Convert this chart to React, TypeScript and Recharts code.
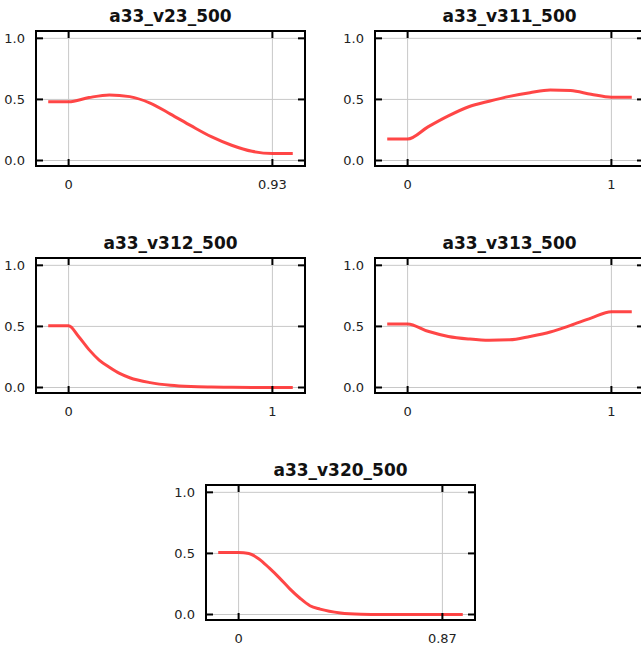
import { CartesianGrid, Line, LineChart, ReferenceArea, XAxis, YAxis } from 'recharts';

// x positions and read-off values for each panel
const v23X = [-0.093, 0, 0.093, 0.186, 0.279, 0.372, 0.465, 0.558, 0.651, 0.744, 0.837, 0.93, 1.023];
const v23Y = [0.48, 0.48, 0.515, 0.537, 0.523, 0.47, 0.38, 0.285, 0.195, 0.125, 0.075, 0.057, 0.057];

const v311X = [-0.1, 0, 0.1, 0.2, 0.3, 0.4, 0.5, 0.6, 0.7, 0.8, 0.9, 1.0, 1.1];
const v311Y = [0.176, 0.176, 0.275, 0.365, 0.44, 0.485, 0.525, 0.555, 0.577, 0.572, 0.542, 0.518, 0.518];

const v312X = [-0.1, 0, 0.05, 0.1, 0.15, 0.2, 0.25, 0.3, 0.4, 0.5, 0.6, 0.7, 0.8, 0.9, 1.0, 1.1];
const v312Y = [0.505, 0.505, 0.415, 0.31, 0.225, 0.166, 0.115, 0.08, 0.04, 0.018, 0.008, 0.004, 0.002, 0.001, 0.001, 0.001];

const v313X = [-0.1, 0, 0.1, 0.2, 0.3, 0.4, 0.5, 0.6, 0.7, 0.8, 0.9, 1.0, 1.1];
const v313Y = [0.52, 0.52, 0.46, 0.418, 0.397, 0.386, 0.39, 0.418, 0.454, 0.508, 0.568, 0.62, 0.62];

const v320X = [-0.087, 0, 0.0435, 0.087, 0.1305, 0.174, 0.2175, 0.261, 0.3045, 0.348, 0.435, 0.522, 0.609, 0.696, 0.783, 0.87, 0.957];
const v320Y = [0.508, 0.508, 0.5, 0.455, 0.381, 0.3, 0.212, 0.135, 0.072, 0.044, 0.013, 0.003, 0.001, 0.001, 0.001, 0.001, 0.001];

const titles = ['a33_v23_500', 'a33_v311_500', 'a33_v312_500', 'a33_v313_500', 'a33_v320_500'];
const xMax = [0.93, 1, 1, 1, 0.87];
const yTicks = [0, 0.5, 1];

const FONT = '"DejaVu Sans", sans-serif';

function zip(xs: number[], ys: number[]) {
  return xs.map((x, i) => ({ x, y: ys[i] }));
}

const panels = [
  { title: titles[0], max: xMax[0], data: zip(v23X, v23Y), left: 0, top: 0 },
  { title: titles[1], max: xMax[1], data: zip(v311X, v311Y), left: 339, top: 0 },
  { title: titles[2], max: xMax[2], data: zip(v312X, v312Y), left: 0, top: 227 },
  { title: titles[3], max: xMax[3], data: zip(v313X, v313Y), left: 339, top: 227 },
  { title: titles[4], max: xMax[4], data: zip(v320X, v320Y), left: 170, top: 454 },
];

const labelStyle = { fontSize: 13, fill: '#222', fontFamily: FONT };
const inTick = { stroke: '#000', strokeWidth: 2 };
const noLabel = () => '';

function Panel({ title, max, data, left, top }: (typeof panels)[number]) {
  const xDomain = [-0.16 * max, 1.16 * max];
  const xTicks = [0, max];
  const yDomain = [-0.045, 1.06];
  return (
    <div style={{ position: 'absolute', left, top, width: 316, height: 196 }}>
      <div
        style={{
          position: 'absolute',
          left: 36,
          top: 8,
          width: 269,
          textAlign: 'center',
          fontFamily: FONT,
          fontWeight: 'bold',
          fontSize: 17,
          lineHeight: '17px',
          color: '#111',
        }}
      >
        {title}
      </div>
      <LineChart width={316} height={196} data={data} margin={{ top: 31, right: 11, bottom: 0, left: 0 }}>
        <CartesianGrid stroke="#c8c8c8" />
        {/* label axes */}
        <XAxis
          dataKey="x"
          type="number"
          domain={xDomain}
          ticks={xTicks}
          allowDataOverflow
          interval={0}
          height={30}
          tickSize={0}
          tickMargin={14}
          tickLine={false}
          axisLine={false}
          tick={labelStyle}
          tickFormatter={(v: number) => String(v)}
        />
        <YAxis
          type="number"
          domain={yDomain}
          ticks={yTicks}
          allowDataOverflow
          interval={0}
          width={36}
          tickSize={0}
          tickMargin={11}
          tickLine={false}
          axisLine={false}
          tick={labelStyle}
          tickFormatter={(v: number) => v.toFixed(1)}
        />
        {/* inward tick marks on all four sides */}
        {(['bottom', 'top'] as const).map((o) => (
          <XAxis
            key={o}
            xAxisId={o}
            dataKey="x"
            type="number"
            orientation={o}
            mirror
            domain={xDomain}
            ticks={xTicks}
            allowDataOverflow
            interval={0}
            tickSize={7}
            tickLine={inTick}
            axisLine={false}
            tick={{ fontSize: 1, fill: 'none' }}
            tickFormatter={noLabel}
          />
        ))}
        {(['left', 'right'] as const).map((o) => (
          <YAxis
            key={o}
            yAxisId={o}
            type="number"
            orientation={o}
            mirror
            domain={yDomain}
            ticks={yTicks}
            allowDataOverflow
            interval={0}
            tickSize={7}
            tickLine={inTick}
            axisLine={false}
            tick={{ fontSize: 1, fill: 'none' }}
            tickFormatter={noLabel}
          />
        ))}
        <ReferenceArea
          x1={xDomain[0]}
          x2={xDomain[1]}
          y1={yDomain[0]}
          y2={yDomain[1]}
          fill="none"
          stroke="#000"
          strokeWidth={2}
          ifOverflow="visible"
        />
        <Line
          type="monotone"
          dataKey="y"
          stroke="#ff3232"
          strokeOpacity={0.9}
          strokeWidth={3}
          dot={false}
          isAnimationActive={false}
        />
      </LineChart>
    </div>
  );
}

export default function App() {
  return (
    <div style={{ position: 'absolute', left: 0, top: 0, width: 641, height: 648, overflow: 'hidden', background: '#fff' }}>
      {panels.map((p) => (
        <Panel key={p.title} {...p} />
      ))}
    </div>
  );
}
